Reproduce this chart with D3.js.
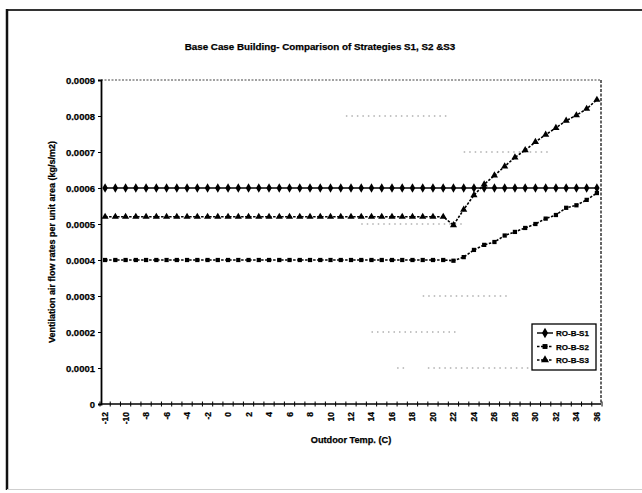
<!DOCTYPE html>
<html>
<head>
<meta charset="utf-8">
<script src="https://cdn.jsdelivr.net/npm/d3@7"></script>
<style>
  html, body { margin: 0; padding: 0; background: #fff; }
  svg { display: block; }
  text { font-family: "Liberation Sans", Arial, sans-serif; font-weight: bold; fill: #000;
         stroke: #000; stroke-width: 0.25; }
</style>
</head>
<body>
<svg id="chart" width="642" height="493"></svg>
<script>
// Outdoor temperature categories (C), one point per degree
const temps = d3.range(-12, 37);

// Ventilation air flow rate per unit area (kg/s/m2)
const seriesNames = ["RO-B-S1", "RO-B-S2", "RO-B-S3"];

// S1: constant rate
const s1 = temps.map(() => 0.0006);

// S2: flat up to 22 C, then rising
const s2Flat = 0.0004;
const s2Rise = [0.000398, 0.000408, 0.000428, 0.000442, 0.00045, 0.000468, 0.000478,
                0.000489, 0.0005, 0.000515, 0.000525, 0.000545, 0.000552, 0.000567, 0.000586];
const s2 = temps.map(t => t < 22 ? s2Flat : s2Rise[t - 22]);

// S3: flat up to 21 C, dip at 22 C, then rising
const s3Flat = 0.00052;
const s3Rise = [0.000497, 0.00054, 0.00058, 0.00061, 0.000635, 0.00066, 0.000685,
                0.000705, 0.000728, 0.000748, 0.000767, 0.000787, 0.000802, 0.00082, 0.000845];
const s3 = temps.map(t => t < 22 ? s3Flat : s3Rise[t - 22]);

const yTicks = [0, 0.0001, 0.0002, 0.0003, 0.0004, 0.0005, 0.0006, 0.0007, 0.0008, 0.0009];
const xTickLabels = temps.filter(t => t % 2 === 0);

// Faded remnants of the horizontal gridlines: [value, from temp, to temp]
const gridValues = [0.0008, 0.0007, 0.0005, 0.0003, 0.0002, 0.0001, 0.0001];
const gridFrom   = [11.5,   23,     13,     19,     14,     16.5,   19.5];
const gridTo     = [21.5,   31.5,   23,     27.5,   22.5,   17.5,   29.5];

const svg = d3.select("#chart");

// outer chart frame
svg.append("line").attr("x1", 7).attr("y1", 10).attr("x2", 642).attr("y2", 10)
  .attr("stroke", "#333").attr("stroke-width", 2);
svg.append("line").attr("x1", 7).attr("y1", 9).attr("x2", 7).attr("y2", 490)
  .attr("stroke", "#111").attr("stroke-width", 2.5);
svg.append("line").attr("x1", 7).attr("y1", 489.5).attr("x2", 642).attr("y2", 489.5)
  .attr("stroke", "#cfcfcf").attr("stroke-width", 1);

const plot = { left: 101, right: 601, top: 80, bottom: 404 };

const x = d3.scalePoint().domain(temps).range([plot.left, plot.right]).padding(0.4);
const xLin = d3.scaleLinear().domain([-12, 36]).range([x(-12), x(36)]);
const y = d3.scaleLinear().domain([0, 0.0009]).range([plot.bottom, plot.top]);

// gridline fragments
const gridG = svg.append("g");
gridValues.forEach((v, i) => {
  gridG.append("line")
    .attr("x1", xLin(gridFrom[i])).attr("x2", xLin(gridTo[i]))
    .attr("y1", y(v)).attr("y2", y(v))
    .attr("stroke", "#888").attr("stroke-width", 1.2)
    .attr("stroke-dasharray", "1.5,4");
});

// plot area top and right borders (dotted)
svg.append("line").attr("x1", plot.left).attr("x2", plot.right)
  .attr("y1", plot.top).attr("y2", plot.top)
  .attr("stroke", "#444").attr("stroke-width", 1.2).attr("stroke-dasharray", "2,1.5");
svg.append("line").attr("x1", plot.right).attr("x2", plot.right)
  .attr("y1", plot.top).attr("y2", plot.bottom)
  .attr("stroke", "#333").attr("stroke-width", 1.5).attr("stroke-dasharray", "3,1.5");

// y axis
const yAxis = d3.axisLeft(y).tickValues(yTicks).tickSize(3).tickPadding(3)
  .tickFormat(d => d === 0 ? "0" : d3.format(".4f")(d));
const yg = svg.append("g").attr("transform", `translate(${plot.left},0)`).call(yAxis);
yg.select(".domain").attr("stroke", "#000").attr("stroke-width", 1.8);
yg.selectAll(".tick line").attr("stroke", "#000");
yg.selectAll(".tick text").attr("font-size", 9.5).style("font-weight", "bold")
  .attr("font-family", "Liberation Sans, Arial, sans-serif");

// x axis with crossing tick marks at each category boundary
const xg = svg.append("g").attr("transform", `translate(0,${plot.bottom})`);
xg.append("line").attr("x1", plot.left).attr("x2", plot.right)
  .attr("stroke", "#000").attr("stroke-width", 1.5);
const bounds = temps.map(t => x(t) - x.step() / 2).concat([x(36) + x.step() / 2]);
xg.selectAll("line.tk").data(bounds).join("line").attr("class", "tk")
  .attr("x1", d => d).attr("x2", d => d).attr("y1", -2.5).attr("y2", 2.5)
  .attr("stroke", "#000").attr("stroke-width", 1);
xg.selectAll("text.lbl").data(xTickLabels).join("text").attr("class", "lbl")
  .attr("transform", d => `translate(${x(d) + 3},8) rotate(-90)`)
  .attr("text-anchor", "end")
  .attr("font-size", 8.5)
  .text(d => d);

// series
const seriesData = [s1, s2, s3];
const dashes = [null, "2.5,1.5", "2.5,1.5"];
const line = d3.line().x((d, i) => x(temps[i])).y(d => y(d));

const symbols = [d3.symbolDiamond, d3.symbolSquare, d3.symbolTriangle];
const symSizes = [26, 18, 22];

seriesData.forEach((vals, k) => {
  svg.append("path").datum(vals)
    .attr("fill", "none").attr("stroke", "#000").attr("stroke-width", 1.6)
    .attr("stroke-dasharray", dashes[k])
    .attr("d", line);
  svg.append("g").selectAll("path").data(vals).join("path")
    .attr("transform", (d, i) => `translate(${x(temps[i])},${y(d)})`)
    .attr("d", d3.symbol().type(symbols[k]).size(symSizes[k]))
    .attr("fill", "#000");
});

// legend
const lg = svg.append("g");
lg.append("rect").attr("x", 532).attr("y", 324).attr("width", 64).attr("height", 46)
  .attr("fill", "#fff").attr("stroke", "#000").attr("stroke-width", 1.3);
seriesNames.forEach((name, k) => {
  const ly = 333 + k * 13.5;
  lg.append("line").attr("x1", 537).attr("x2", 553).attr("y1", ly).attr("y2", ly)
    .attr("stroke", "#000").attr("stroke-width", 1.4).attr("stroke-dasharray", dashes[k]);
  lg.append("path").attr("transform", `translate(545,${ly})`)
    .attr("d", d3.symbol().type(symbols[k]).size(symSizes[k] + 6)).attr("fill", "#000");
  lg.append("text").attr("x", 556).attr("y", ly + 3).attr("font-size", 8).text(name);
});

// titles
svg.append("text").attr("x", 320).attr("y", 50).attr("text-anchor", "middle")
  .attr("font-size", 9.8).text("Base Case Building- Comparison of Strategies S1, S2 &S3");
svg.append("text").attr("x", 351).attr("y", 443).attr("text-anchor", "middle")
  .attr("font-size", 9.2).text("Outdoor Temp. (C)");
svg.append("text").attr("transform", "translate(55,242) rotate(-90)")
  .attr("text-anchor", "middle").attr("font-size", 9)
  .text("Ventilation air flow rates per unit area (kg/s/m2)");
</script>
</body>
</html>
